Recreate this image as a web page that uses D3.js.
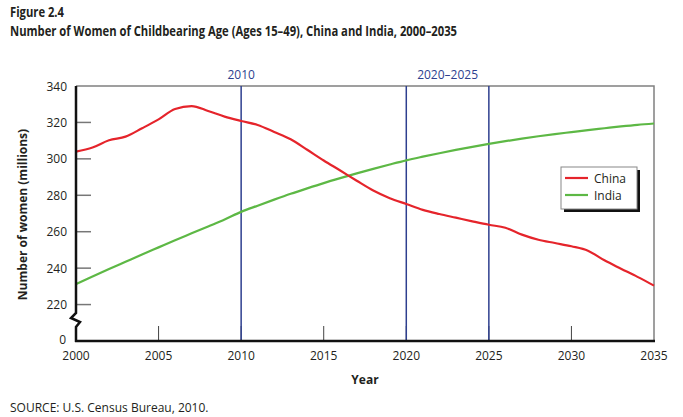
<!DOCTYPE html>
<html><head><meta charset="utf-8">
<script src="https://cdn.jsdelivr.net/npm/d3@7"></script>
<style>body{margin:0;background:#fff}svg{display:block}text{font-family:"Open Sans",sans-serif}</style>
</head><body><svg id="c" width="683" height="417"></svg>
<script>
const years = d3.range(2000, 2036);
const china = [304,306.2,310.2,312.2,316.8,321.7,327.4,329,326.3,323.2,320.8,318.6,314.8,310.8,305,299.1,293.6,288,282.6,278.4,275.2,272,269.7,267.7,265.7,263.8,262.2,258.4,255.6,253.8,252,249.6,244.3,239.7,235.2,230.4];
const india = [231.3,235.4,239.5,243.5,247.5,251.4,255.3,259.1,262.9,266.7,270.9,274.3,277.6,280.8,283.8,286.7,289.4,292,294.5,296.9,299.2,301.2,303.1,304.9,306.6,308.2,309.7,311.1,312.4,313.6,314.7,315.8,316.8,317.8,318.7,319.4];
const xTicks = [2000,2005,2010,2015,2020,2025,2030,2035];
const yTicks = [220,240,260,280,300,320,340];
const yBreakLabel = "0";
const markers = [2010,2020,2025];
const markerLabels = [{text:"2010", from:2010, to:2010},{text:"2020–2025", from:2020, to:2025}];
const seriesNames = ["China","India"];
const colors = {China:"#e5242b", India:"#5db845"};

const svg = d3.select("#c");
const L=76, R=654, T=86, B=341;
const x = d3.scaleLinear().domain([2000,2035]).range([L,R]);
const y = d3.scaleLinear().domain([200,340]).range([B,T]);

// titles
svg.append("text").attr("x",10).attr("y",17).attr("font-weight","bold").attr("font-size",13.5).attr("fill","#231f20")
  .attr("textLength",54).attr("lengthAdjust","spacingAndGlyphs").text("Figure 2.4");
svg.append("text").attr("x",10).attr("y",36).attr("font-weight","bold").attr("font-size",13.5).attr("fill","#231f20")
  .attr("textLength",447).attr("lengthAdjust","spacingAndGlyphs")
  .text("Number of Women of Childbearing Age (Ages 15–49), China and India, 2000–2035");

// frame top/right
svg.append("path").attr("d",`M${L},${T}H${R}V${B}`).attr("fill","none").attr("stroke","#808080").attr("stroke-width",1.5);

// y tick lines
svg.append("g").selectAll("line").data(yTicks.slice(0,-1)).join("line")
  .attr("x1",L).attr("x2",L+15).attr("y1",d=>y(d)).attr("y2",d=>y(d))
  .attr("stroke","#777").attr("stroke-width",1.5);
// x tick lines
svg.append("g").selectAll("line").data(xTicks.slice(1,-1)).join("line")
  .attr("x1",d=>x(d)).attr("x2",d=>x(d)).attr("y1",B).attr("y2",B-15)
  .attr("stroke","#444").attr("stroke-width",1);

// y labels
svg.append("g").selectAll("text").data(yTicks).join("text")
  .attr("x",L-9).attr("y",d=>y(d)+4.5).attr("text-anchor","end").attr("font-size",12).attr("fill","#231f20").text(d=>d);
svg.append("text").attr("x",L-10).attr("y",B+3).attr("text-anchor","end").attr("font-size",12).attr("fill","#231f20").text(yBreakLabel);
// x labels
svg.append("g").selectAll("text").data(xTicks).join("text")
  .attr("x",d=>x(d)).attr("y",B+19).attr("text-anchor","middle").attr("font-size",12).attr("fill","#231f20").text(d=>d);

// marker lines
svg.append("g").selectAll("line").data(markers).join("line")
  .attr("x1",d=>x(d)).attr("x2",d=>x(d)).attr("y1",T).attr("y2",B)
  .attr("stroke","#2e3f8f").attr("stroke-width",1.5);
svg.append("g").selectAll("text").data(markerLabels).join("text")
  .attr("x",d=>(x(d.from)+x(d.to))/2).attr("y",T-7).attr("text-anchor","middle").attr("font-size",12).attr("fill","#2e3f8f").text(d=>d.text);

// lines
const line = d3.line().x((d,i)=>x(years[i])).y(d=>y(d)).curve(d3.curveMonotoneX);
svg.append("path").datum(india).attr("d",line).attr("fill","none").attr("stroke",colors.India).attr("stroke-width",2.2);
svg.append("path").datum(china).attr("d",line).attr("fill","none").attr("stroke",colors.China).attr("stroke-width",2.2);

// left axis with break, bottom axis
svg.append("path").attr("d",`M${L},${T}V313L71,318L80,322L76,327V${B+1}`).attr("fill","none").attr("stroke","#111").attr("stroke-width",2.5).attr("stroke-linejoin","miter");
svg.append("line").attr("x1",L-1).attr("x2",R+1).attr("y1",B).attr("y2",B).attr("stroke","#111").attr("stroke-width",2.5);

// axis titles
svg.append("text").attr("transform",`translate(27,${(T+B)/2+1}) rotate(-90)`).attr("text-anchor","middle").attr("font-weight","bold").attr("font-size",12).attr("fill","#231f20").text("Number of women (millions)");
svg.append("text").attr("x",365).attr("y",384).attr("text-anchor","middle").attr("font-weight","bold").attr("font-size",12).attr("fill","#231f20").text("Year");

// source
svg.append("text").attr("x",10).attr("y",412).attr("font-size",12).attr("fill","#231f20").text("SOURCE: U.S. Census Bureau, 2010.");

// legend
const lg = svg.append("g").attr("transform","translate(561,167)");
lg.append("rect").attr("x",3).attr("y",3).attr("width",76).attr("height",42).attr("fill","#111");
lg.append("rect").attr("x",0).attr("y",0).attr("width",76).attr("height",42).attr("fill","#fff").attr("stroke","#888").attr("stroke-width",1);
seriesNames.forEach((n,i)=>{
  lg.append("line").attr("x1",4).attr("x2",27).attr("y1",11+i*17).attr("y2",11+i*17).attr("stroke",colors[n]).attr("stroke-width",2.2);
  lg.append("text").attr("x",33).attr("y",15.5+i*17).attr("font-size",12).attr("fill","#231f20").text(n);
});
</script></body></html>
